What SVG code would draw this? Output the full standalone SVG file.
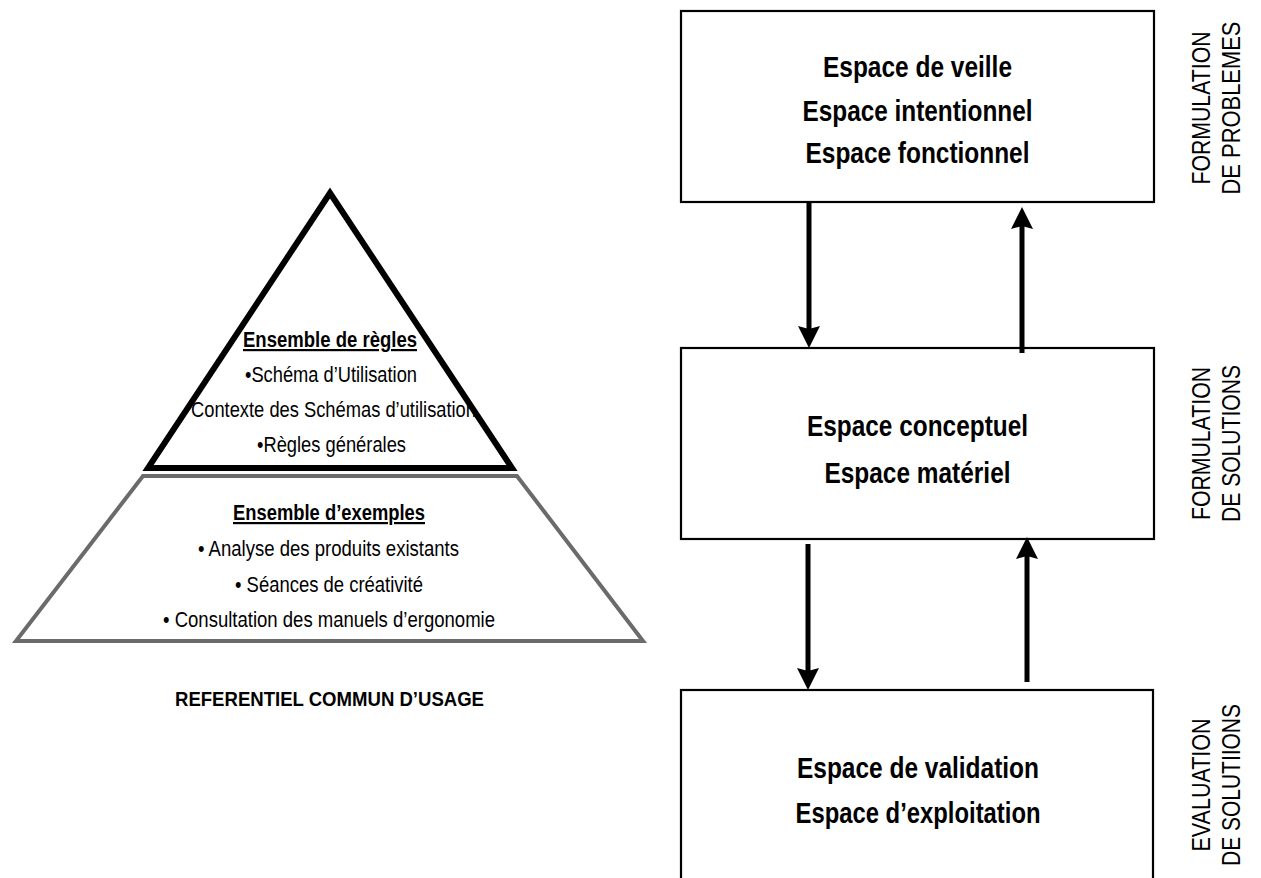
<svg xmlns="http://www.w3.org/2000/svg" width="1261" height="878" viewBox="0 0 1261 878">
<style>
  text { font-family: "Liberation Sans Narrow", "Liberation Sans", Arial, sans-serif; fill: #000; }
  .box { fill: #fff; stroke: #000; stroke-width: 2.2; }
  .bt { font-size: 29px; font-weight: bold; text-anchor: middle; }
  .pt { font-size: 22px; text-anchor: middle; }
  .ph { font-size: 22px; font-weight: bold; text-anchor: middle; text-decoration: underline; }
  .side { font-size: 25px; text-anchor: middle; }
  .arr { fill: none; stroke: #000; stroke-width: 5; marker-end: url(#ah); }
</style>
<defs>
  <marker id="ah" viewBox="0 0 22 22" refX="10" refY="11" markerWidth="22" markerHeight="22" markerUnits="userSpaceOnUse" orient="auto">
    <path d="M0,0 L22,11 L0,22 L3,11 Z" fill="#000"/>
  </marker>
  <clipPath id="triclip">
    <polygon points="330,198 153,465 507,465"/>
  </clipPath>
</defs>
<rect width="1261" height="878" fill="#fff"/>

<g id="exemples">
  <polygon points="143,476 517,476 643,641 16,641" fill="#fff" stroke="#6b6b6b" stroke-width="4" stroke-linejoin="miter"/>
  <text class="ph" x="329" y="520" textLength="192" lengthAdjust="spacingAndGlyphs">Ensemble d’exemples</text>
  <text class="pt" x="328.5" y="556" textLength="261" lengthAdjust="spacingAndGlyphs">• Analyse des produits existants</text>
  <text class="pt" x="329" y="592" textLength="188" lengthAdjust="spacingAndGlyphs">• Séances de créativité</text>
  <text class="pt" x="329" y="627" textLength="332" lengthAdjust="spacingAndGlyphs">• Consultation des manuels d’ergonomie</text>
</g>

<g id="regles">
  <polygon points="330,193 148,468 512,468" fill="#fff"/>
  <g clip-path="url(#triclip)">
    <text class="ph" x="330" y="347" textLength="174" lengthAdjust="spacingAndGlyphs">Ensemble de règles</text>
    <text class="pt" x="331" y="382" textLength="172" lengthAdjust="spacingAndGlyphs">•Schéma d’Utilisation</text>
    <text class="pt" x="333.5" y="417" textLength="285" lengthAdjust="spacingAndGlyphs">Contexte des Schémas d’utilisation</text>
    <text class="pt" x="331.5" y="452" textLength="149" lengthAdjust="spacingAndGlyphs">•Règles générales</text>
  </g>
  <polygon points="330,193 148,468 512,468" fill="none" stroke="#000" stroke-width="6" stroke-linejoin="miter"/>
</g>

<g id="referentiel">
  <text x="329.5" y="706" font-size="20" font-weight="bold" text-anchor="middle" textLength="309" lengthAdjust="spacingAndGlyphs">REFERENTIEL COMMUN D’USAGE</text>
</g>

<g id="box-problemes">
  <rect class="box" x="681" y="11" width="473" height="191"/>
  <text class="bt" x="917.5" y="77" textLength="189" lengthAdjust="spacingAndGlyphs">Espace de veille</text>
  <text class="bt" x="917.5" y="121" textLength="230" lengthAdjust="spacingAndGlyphs">Espace intentionnel</text>
  <text class="bt" x="917.5" y="163" textLength="224" lengthAdjust="spacingAndGlyphs">Espace fonctionnel</text>
</g>

<g id="box-solutions">
  <rect class="box" x="681" y="348" width="473" height="191"/>
  <text class="bt" x="917.5" y="436" textLength="221" lengthAdjust="spacingAndGlyphs">Espace conceptuel</text>
  <text class="bt" x="917.5" y="483" textLength="186" lengthAdjust="spacingAndGlyphs">Espace matériel</text>
</g>

<g id="box-evaluation">
  <rect class="box" x="681" y="690" width="472" height="200"/>
  <text class="bt" x="918" y="778" textLength="242" lengthAdjust="spacingAndGlyphs">Espace de validation</text>
  <text class="bt" x="918" y="823" textLength="245" lengthAdjust="spacingAndGlyphs">Espace d’exploitation</text>
</g>

<g id="label-problemes">
  <text class="side" transform="translate(1210,108) rotate(-90)" textLength="153" lengthAdjust="spacingAndGlyphs">FORMULATION</text>
  <text class="side" transform="translate(1240,108) rotate(-90)" textLength="173" lengthAdjust="spacingAndGlyphs">DE PROBLEMES</text>
</g>
<g id="label-solutions">
  <text class="side" transform="translate(1210,443.5) rotate(-90)" textLength="153" lengthAdjust="spacingAndGlyphs">FORMULATION</text>
  <text class="side" transform="translate(1240,443.5) rotate(-90)" textLength="157" lengthAdjust="spacingAndGlyphs">DE SOLUTIONS</text>
</g>
<g id="label-evaluation">
  <text class="side" transform="translate(1210,785) rotate(-90)" textLength="133" lengthAdjust="spacingAndGlyphs">EVALUATION</text>
  <text class="side" transform="translate(1240,785) rotate(-90)" textLength="162" lengthAdjust="spacingAndGlyphs">DE SOLUTIIONS</text>
</g>

<g id="connectors">
  <line class="arr" x1="809" y1="202" x2="809" y2="336"/>
  <line class="arr" x1="1022" y1="353" x2="1022" y2="219"/>
  <line class="arr" x1="808" y1="544" x2="808" y2="678"/>
  <line class="arr" x1="1027" y1="682" x2="1027" y2="549"/>
</g>
</svg>
